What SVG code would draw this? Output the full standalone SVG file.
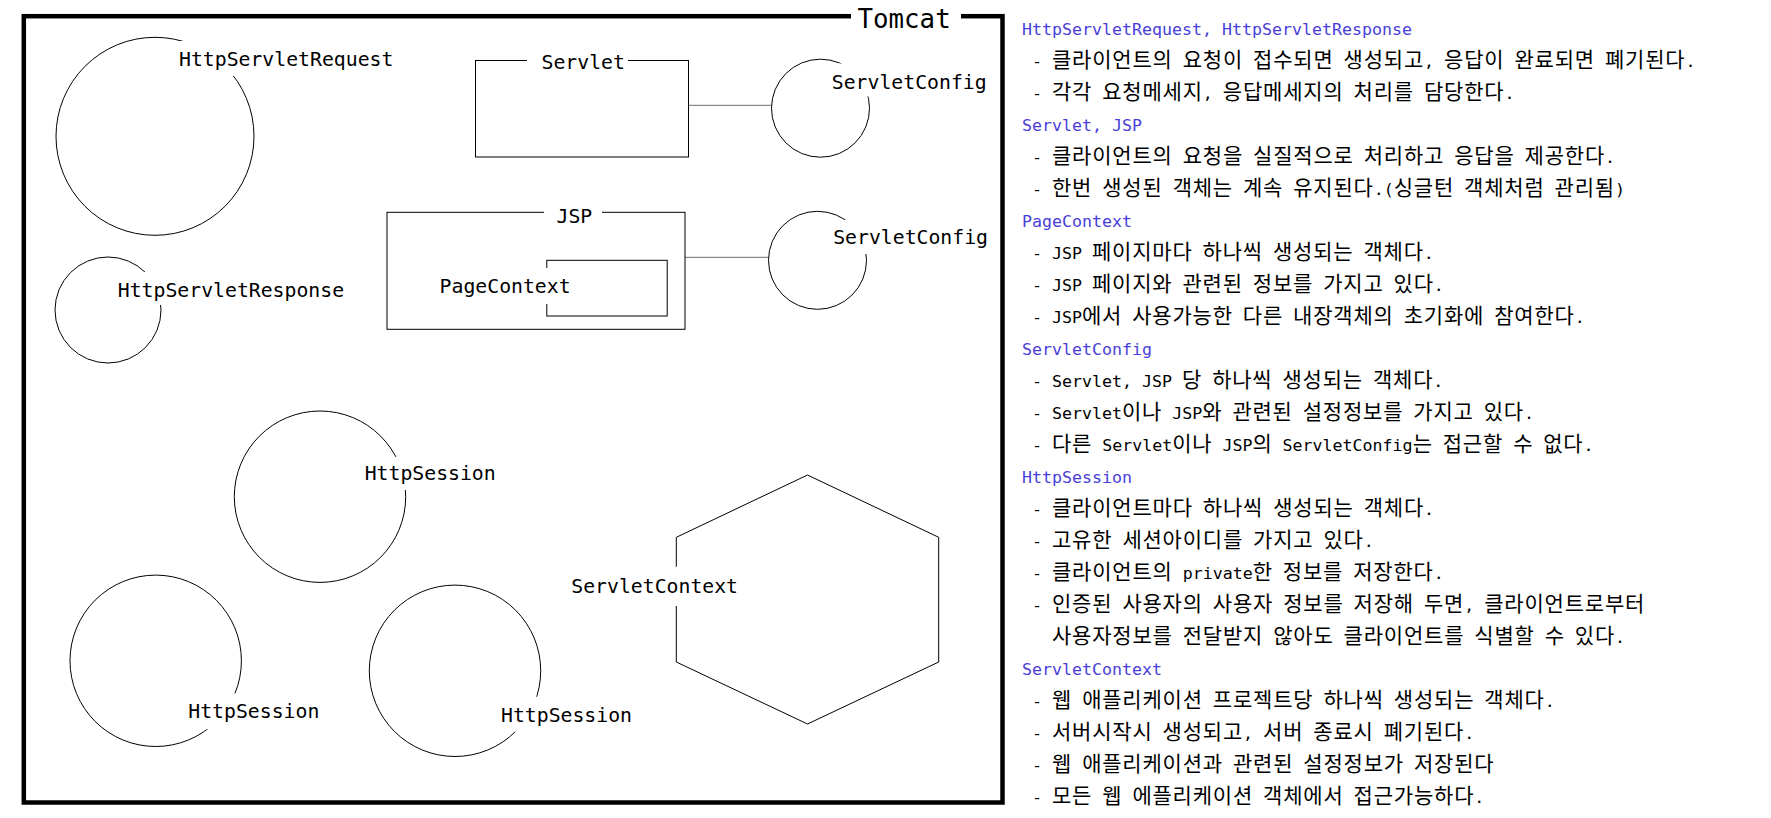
<svg xmlns="http://www.w3.org/2000/svg" width="1771" height="818" viewBox="0 0 1771 818">
<style>
.bg{fill:#fff}
.shape{fill:none;stroke:#000;stroke-width:1}
.frame{fill:none;stroke:#000;stroke-width:4.5}
.conn{stroke:#8a8a8a;stroke-width:1.2;fill:none}
.lbl{font-family:"DejaVu Sans Mono","Liberation Mono",monospace;font-size:19.8px;fill:#000}
.title{font-family:"DejaVu Sans Mono","Liberation Mono",monospace;font-size:25.8px;fill:#000}
.d{font-family:"DejaVu Sans Mono","Noto Sans CJK KR",monospace;font-size:16.61px;fill:#000}
.h{fill:#4840d8}
.k{font-family:"Noto Sans CJK KR",sans-serif;font-size:21px;letter-spacing:0.8px}
</style>
<rect x="0" y="0" width="1771" height="818" fill="#fff"/>

<g id="tomcat">
<rect class="frame" x="23.8" y="16.2" width="978.7" height="786.3"/>
<rect class="bg" x="851" y="4" width="110" height="26"/>
<text class="title" x="857.5" y="28.3">Tomcat</text>
</g>

<g id="connectors">
<line class="conn" x1="688.5" y1="105.3" x2="771.5" y2="105.3"/>
<line class="conn" x1="685" y1="257.3" x2="768.3" y2="257.3"/>
</g>

<g id="httpservletrequest">
<circle class="shape" cx="155" cy="136.3" r="99"/>
<rect class="bg" x="178" y="41" width="220" height="35"/>
<text class="lbl" x="179" y="66">HttpServletRequest</text>
</g>

<g id="httpservletresponse">
<circle class="shape" cx="108" cy="310" r="53"/>
<rect class="bg" x="117" y="272" width="230" height="33"/>
<text class="lbl" x="117.8" y="296.7">HttpServletResponse</text>
</g>

<g id="servlet">
<rect class="shape" x="475.5" y="60.5" width="213" height="96.5"/>
<rect class="bg" x="527" y="46" width="101" height="30"/>
<text class="lbl" x="541.5" y="69">Servlet</text>
</g>

<g id="servletconfig1">
<circle class="shape" cx="820.5" cy="108.2" r="49"/>
<rect class="bg" x="831" y="63.5" width="159" height="33"/>
<text class="lbl" x="831.8" y="88.7">ServletConfig</text>
</g>

<g id="jsp">
<rect class="shape" x="387" y="212.3" width="298" height="117"/>
<rect class="bg" x="544" y="198" width="58" height="30"/>
<text class="lbl" x="556.5" y="222.7">JSP</text>
</g>

<g id="pagecontext">
<rect class="shape" x="546.8" y="260.3" width="120.4" height="55.7"/>
<rect class="bg" x="438" y="268" width="136" height="36"/>
<text class="lbl" x="439.6" y="293.3">PageContext</text>
</g>

<g id="servletconfig2">
<circle class="shape" cx="817.5" cy="260.3" r="49"/>
<rect class="bg" x="832" y="220" width="159" height="34"/>
<text class="lbl" x="833.2" y="244">ServletConfig</text>
</g>

<g id="httpsession1">
<circle class="shape" cx="320" cy="496.7" r="85.7"/>
<rect class="bg" x="364" y="457" width="134" height="33"/>
<text class="lbl" x="364.7" y="480">HttpSession</text>
</g>

<g id="httpsession2">
<circle class="shape" cx="155.7" cy="660.8" r="85.7"/>
<rect class="bg" x="187" y="693.3" width="135" height="36"/>
<text class="lbl" x="188.3" y="718.3">HttpSession</text>
</g>

<g id="httpsession3">
<circle class="shape" cx="455" cy="670.8" r="85.7"/>
<rect class="bg" x="500" y="696.7" width="136" height="35"/>
<text class="lbl" x="501" y="721.7">HttpSession</text>
</g>

<g id="servletcontext">
<polygon class="shape" points="807.5,475 938.7,537.3 938.7,662 807.5,724 676.3,662 676.3,537.3"/>
<rect class="bg" x="570" y="566.7" width="171" height="39.3"/>
<text class="lbl" x="571.3" y="592.7">ServletContext</text>
</g>

<g id="description">
<text class="d h" x="1022" y="35">HttpServletRequest, HttpServletResponse</text>
<text class="d" x="1032" y="67">- <tspan class="k">클라이언트의</tspan> <tspan class="k">요청이</tspan> <tspan class="k">접수되면</tspan> <tspan class="k">생성되고</tspan>, <tspan class="k">응답이</tspan> <tspan class="k">완료되면</tspan> <tspan class="k">폐기된다</tspan>.</text>
<text class="d" x="1032" y="99">- <tspan class="k">각각</tspan> <tspan class="k">요청메세지</tspan>, <tspan class="k">응답메세지의</tspan> <tspan class="k">처리를</tspan> <tspan class="k">담당한다</tspan>.</text>
<text class="d h" x="1022" y="131">Servlet, JSP</text>
<text class="d" x="1032" y="163">- <tspan class="k">클라이언트의</tspan> <tspan class="k">요청을</tspan> <tspan class="k">실질적으로</tspan> <tspan class="k">처리하고</tspan> <tspan class="k">응답을</tspan> <tspan class="k">제공한다</tspan>.</text>
<text class="d" x="1032" y="195">- <tspan class="k">한번</tspan> <tspan class="k">생성된</tspan> <tspan class="k">객체는</tspan> <tspan class="k">계속</tspan> <tspan class="k">유지된다</tspan>.(<tspan class="k">싱글턴</tspan> <tspan class="k">객체처럼</tspan> <tspan class="k">관리됨</tspan>)</text>
<text class="d h" x="1022" y="227">PageContext</text>
<text class="d" x="1032" y="259">- JSP <tspan class="k">페이지마다</tspan> <tspan class="k">하나씩</tspan> <tspan class="k">생성되는</tspan> <tspan class="k">객체다</tspan>.</text>
<text class="d" x="1032" y="291">- JSP <tspan class="k">페이지와</tspan> <tspan class="k">관련된</tspan> <tspan class="k">정보를</tspan> <tspan class="k">가지고</tspan> <tspan class="k">있다</tspan>.</text>
<text class="d" x="1032" y="323">- JSP<tspan class="k">에서</tspan> <tspan class="k">사용가능한</tspan> <tspan class="k">다른</tspan> <tspan class="k">내장객체의</tspan> <tspan class="k">초기화에</tspan> <tspan class="k">참여한다</tspan>.</text>
<text class="d h" x="1022" y="355">ServletConfig</text>
<text class="d" x="1032" y="387">- Servlet, JSP <tspan class="k">당</tspan> <tspan class="k">하나씩</tspan> <tspan class="k">생성되는</tspan> <tspan class="k">객체다</tspan>.</text>
<text class="d" x="1032" y="419">- Servlet<tspan class="k">이나</tspan> JSP<tspan class="k">와</tspan> <tspan class="k">관련된</tspan> <tspan class="k">설정정보를</tspan> <tspan class="k">가지고</tspan> <tspan class="k">있다</tspan>.</text>
<text class="d" x="1032" y="451">- <tspan class="k">다른</tspan> Servlet<tspan class="k">이나</tspan> JSP<tspan class="k">의</tspan> ServletConfig<tspan class="k">는</tspan> <tspan class="k">접근할</tspan> <tspan class="k">수</tspan> <tspan class="k">없다</tspan>.</text>
<text class="d h" x="1022" y="483">HttpSession</text>
<text class="d" x="1032" y="515">- <tspan class="k">클라이언트마다</tspan> <tspan class="k">하나씩</tspan> <tspan class="k">생성되는</tspan> <tspan class="k">객체다</tspan>.</text>
<text class="d" x="1032" y="547">- <tspan class="k">고유한</tspan> <tspan class="k">세션아이디를</tspan> <tspan class="k">가지고</tspan> <tspan class="k">있다</tspan>.</text>
<text class="d" x="1032" y="579">- <tspan class="k">클라이언트의</tspan> private<tspan class="k">한</tspan> <tspan class="k">정보를</tspan> <tspan class="k">저장한다</tspan>.</text>
<text class="d" x="1032" y="611">- <tspan class="k">인증된</tspan> <tspan class="k">사용자의</tspan> <tspan class="k">사용자</tspan> <tspan class="k">정보를</tspan> <tspan class="k">저장해</tspan> <tspan class="k">두면</tspan>, <tspan class="k">클라이언트로부터</tspan></text>
<text class="d" x="1052" y="643"><tspan class="k">사용자정보를</tspan> <tspan class="k">전달받지</tspan> <tspan class="k">않아도</tspan> <tspan class="k">클라이언트를</tspan> <tspan class="k">식별할</tspan> <tspan class="k">수</tspan> <tspan class="k">있다</tspan>.</text>
<text class="d h" x="1022" y="675">ServletContext</text>
<text class="d" x="1032" y="707">- <tspan class="k">웹</tspan> <tspan class="k">애플리케이션</tspan> <tspan class="k">프로젝트당</tspan> <tspan class="k">하나씩</tspan> <tspan class="k">생성되는</tspan> <tspan class="k">객체다</tspan>.</text>
<text class="d" x="1032" y="739">- <tspan class="k">서버시작시</tspan> <tspan class="k">생성되고</tspan>, <tspan class="k">서버</tspan> <tspan class="k">종료시</tspan> <tspan class="k">폐기된다</tspan>.</text>
<text class="d" x="1032" y="771">- <tspan class="k">웹</tspan> <tspan class="k">애플리케이션과</tspan> <tspan class="k">관련된</tspan> <tspan class="k">설정정보가</tspan> <tspan class="k">저장된다</tspan></text>
<text class="d" x="1032" y="803">- <tspan class="k">모든</tspan> <tspan class="k">웹</tspan> <tspan class="k">에플리케이션</tspan> <tspan class="k">객체에서</tspan> <tspan class="k">접근가능하다</tspan>.</text>
</g>
</svg>
